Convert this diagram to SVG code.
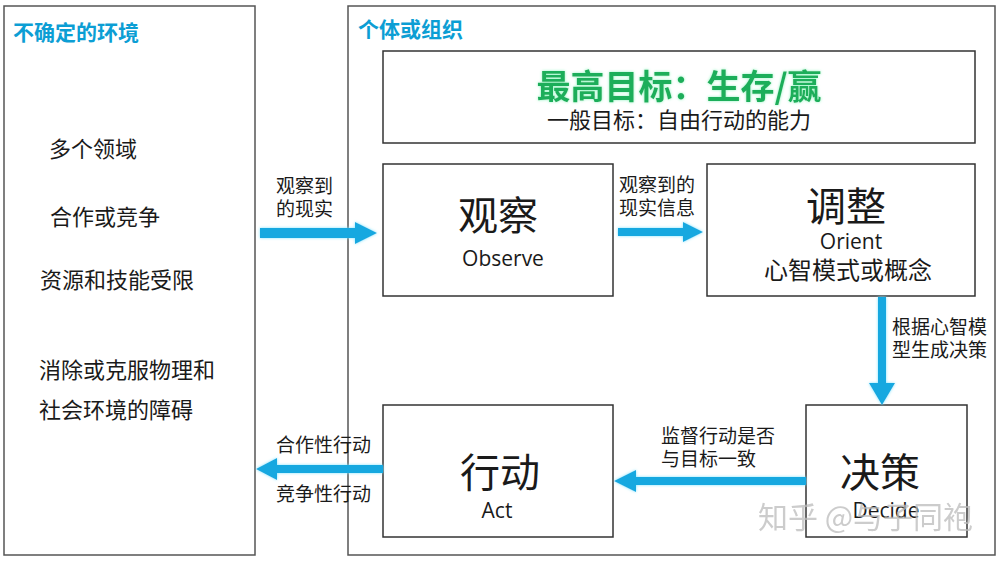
<svg xmlns="http://www.w3.org/2000/svg" width="1000" height="562" viewBox="0 0 1000 562">
<style>
text{font-family:"Noto Sans CJK SC","Noto Sans",sans-serif;fill:#1a1a1a}
.lat{font-family:"Open Sans","Noto Sans","Noto Sans CJK SC",sans-serif}
.panel{fill:#fff;stroke:#555;stroke-width:1.5}
.box{fill:#fff;stroke:#333;stroke-width:1.5}
.title{fill:#0c9ed4;font-weight:bold;font-size:21px}
.big{font-size:40px;text-anchor:middle}
.en{font-size:21px;text-anchor:middle}
.lbl{font-size:19px}
.item{font-size:22px}
.arr{fill:#12a8e0;filter:url(#glow)}
</style>
<defs>
<filter id="glow" x="-20%" y="-50%" width="140%" height="200%">
<feGaussianBlur in="SourceAlpha" stdDeviation="1.5" result="b"/>
<feFlood flood-color="#7fe3ff" result="c"/>
<feComposite in="c" in2="b" operator="in" result="g"/>
<feMerge><feMergeNode in="g"/><feMergeNode in="SourceGraphic"/></feMerge>
</filter>
<filter id="gglow" x="-10%" y="-30%" width="120%" height="160%">
<feGaussianBlur in="SourceAlpha" stdDeviation="1.8" result="b"/>
<feFlood flood-color="#8ef5c0" result="c"/>
<feComposite in="c" in2="b" operator="in" result="g"/>
<feMerge><feMergeNode in="g"/><feMergeNode in="SourceGraphic"/></feMerge>
</filter>
</defs>
<rect width="1000" height="562" fill="#fff"/>

<g id="environment">
<rect class="panel" x="4" y="6" width="251" height="549"/>
<text class="title" x="13" y="40">不确定的环境</text>
<text class="item" x="49" y="157">多个领域</text>
<text class="item" x="50" y="225">合作或竞争</text>
<text class="item" x="40" y="288">资源和技能受限</text>
<text class="item" x="39" y="378">消除或克服物理和</text>
<text class="item" x="39" y="418">社会环境的障碍</text>
</g>

<g id="organization">
<rect class="panel" x="348" y="6" width="647" height="549"/>
<text class="title" x="358" y="37">个体或组织</text>
</g>

<g id="goal">
<rect class="box" x="383" y="51" width="592" height="92"/>
<text x="679" y="99" text-anchor="middle" font-size="34" font-weight="bold" style="fill:#1fae5a" filter="url(#gglow)">最高目标：生存/赢</text>
<text x="679" y="128" text-anchor="middle" font-size="22">一般目标：自由行动的能力</text>
</g>

<g id="observe">
<rect class="box" x="383" y="164" width="230" height="132"/>
<text class="big" x="498" y="230">观察</text>
<text class="en lat" x="503" y="266">Observe</text>
</g>

<g id="orient">
<rect class="box" x="707" y="164" width="268" height="132"/>
<text class="big" x="846" y="221">调整</text>
<text class="en lat" x="851" y="249">Orient</text>
<text x="848" y="279" text-anchor="middle" font-size="24">心智模式或概念</text>
</g>

<g id="decide">
<rect class="box" x="806" y="405" width="161" height="132"/>
<text class="big" x="880" y="487">决策</text>
<text class="en lat" x="886" y="518">Decide</text>
</g>

<g id="act">
<rect class="box" x="383" y="405" width="230" height="132"/>
<text class="big" x="500" y="487">行动</text>
<text class="en lat" x="497" y="518">Act</text>
</g>

<g id="connectors">
<polygon class="arr" points="260,228 355,228 355,222 377,233 355,244 355,238 260,238"/>
<polygon class="arr" points="618,228 683,228 683,222 703,232 683,242 683,236 618,236"/>
<polygon class="arr" points="878,297 886,297 886,383 895,383 882,405 869,383 878,383"/>
<polygon class="arr" points="806,477 636,477 636,470 614,481 636,492 636,485 806,485"/>
<polygon class="arr" points="383,465 277,465 277,458 256,469 277,480 277,473 383,473"/>
<text class="lbl" x="276" y="193">观察到</text>
<text class="lbl" x="276" y="216">的现实</text>
<text class="lbl" x="619" y="192">观察到的</text>
<text class="lbl" x="619" y="215">现实信息</text>
<text class="lbl" x="892" y="334">根据心智模</text>
<text class="lbl" x="892" y="357">型生成决策</text>
<text class="lbl" x="661" y="443">监督行动是否</text>
<text class="lbl" x="661" y="466">与目标一致</text>
<text class="lbl" x="276" y="452">合作性行动</text>
<text class="lbl" x="276" y="501">竞争性行动</text>
</g>

<text x="758" y="528" font-size="30" style="fill:#bbb;opacity:0.75">知乎 @与子同袍</text>
</svg>
